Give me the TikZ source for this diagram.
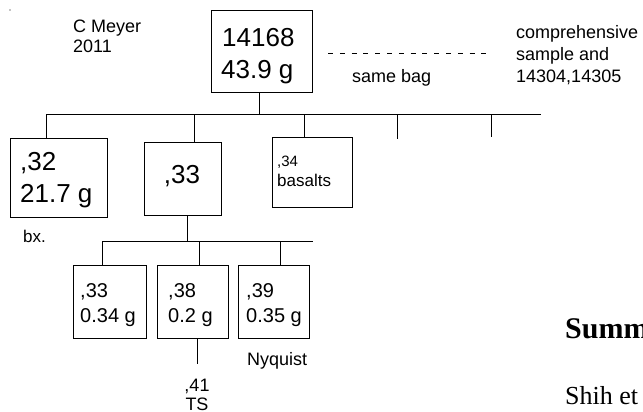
\documentclass[tikz,border=0pt]{standalone}
\usepackage{fontspec}
\setmainfont{Liberation Sans}
\newfontfamily\serifpage{Liberation Serif}
\begin{document}
\begin{tikzpicture}[x=1pt,y=-1pt,
  box/.style={draw,line width=0.9pt,inner sep=0pt,rectangle},
  ln/.style={line width=0.9pt},
  lbl/.style={anchor=base west,inner sep=0pt},
  lblc/.style={anchor=base,inner sep=0pt}]
\useasboundingbox (0,0) rectangle (643,412);
\clip (0,0) rectangle (643,412);
% stray dot
\fill (10,10) circle (0.6);
% boxes
\node[box,minimum width=101pt,minimum height=82pt] (main) at (261.5,51) {};
\node[box,minimum width=97pt,minimum height=79pt] (b32) at (58.5,177.5) {};
\node[box,minimum width=77pt,minimum height=73pt] (b33) at (182.5,178.5) {};
\node[box,minimum width=80pt,minimum height=70pt] (b34) at (312,172) {};
\node[box,minimum width=73pt,minimum height=73pt] (s33) at (109.5,301.5) {};
\node[box,minimum width=71pt,minimum height=73pt] (s38) at (192.5,301.5) {};
\node[box,minimum width=71pt,minimum height=73pt] (s39) at (273.5,301.5) {};
% texts
\node[lbl,font=\fontsize{18}{20}\selectfont] (cm1) at (73,33) {C Meyer};
\node[lbl,font=\fontsize{18}{20}\selectfont] (cm2) at (73,53) {2011};
\node[lbl,font=\fontsize{26}{30}\selectfont] (t1) at (222,47) {14168};
\node[lbl,font=\fontsize{26}{30}\selectfont] (t2) at (221,78) {43.9 g};
\node[lbl,font=\fontsize{18}{20}\selectfont] (sb) at (352,82) {same bag};
\node[lbl,font=\fontsize{18}{20}\selectfont] (c1) at (516,39) {comprehensive};
\node[lbl,font=\fontsize{18}{20}\selectfont] (c2) at (516,61) {sample and};
\node[lbl,font=\fontsize{18}{20}\selectfont] (c3) at (516,83) {14304,14305};
\node[lbl,font=\fontsize{26}{30}\selectfont] (u1) at (20,170) {,32};
\node[lbl,font=\fontsize{26}{30}\selectfont] (u2) at (20,202) {21.7 g};
\node[lblc,font=\fontsize{26}{30}\selectfont] (u3) at (182,183) {,33};
\node[lbl,font=\fontsize{15}{18}\selectfont] (u4) at (277,166) {,34};
\node[lbl,font=\fontsize{17}{20}\selectfont] (u5) at (277,186) {basalts};
\node[lbl,font=\fontsize{17}{20}\selectfont] (bx) at (23,242) {bx.};
\node[lbl,font=\fontsize{20}{24}\selectfont] (v1) at (80,297) {,33};
\node[lbl,font=\fontsize{20}{24}\selectfont] (v2) at (80,322) {0.34 g};
\node[lbl,font=\fontsize{20}{24}\selectfont] (v3) at (168,297) {,38};
\node[lbl,font=\fontsize{20}{24}\selectfont] (v4) at (168,322) {0.2 g};
\node[lbl,font=\fontsize{20}{24}\selectfont] (v5) at (246,297) {,39};
\node[lbl,font=\fontsize{20}{24}\selectfont] (v6) at (246,322) {0.35 g};
\node[lbl,font=\fontsize{18}{20}\selectfont] (ny) at (247,365) {Nyquist};
\node[lblc,font=\fontsize{18}{20}\selectfont] (w1) at (197,391) {,41};
\node[lblc,font=\fontsize{18}{20}\selectfont] (w2) at (197,410) {TS};
\node[lbl,font=\serifpage\bfseries\fontsize{30}{34}\selectfont] (sum) at (565,338) {Summ};
\node[lbl,font=\serifpage\fontsize{26}{30}\selectfont] (shih) at (565,404) {Shih et};
% bus 1
\coordinate (bus1L) at (46,114);
\coordinate (bus1R) at (541,114);
\coordinate (k32) at (46,114);
\coordinate (k33) at (194,114);
\coordinate (k34) at (304,114);
\coordinate (k35) at (397,114);
\coordinate (k36) at (491,114);
\coordinate (k35e) at (397,139);
\coordinate (k36e) at (491,137);
\draw[ln] ([xshift=-2.5pt]main.south) -- ([xshift=-2.5pt]main.south |- bus1L);
\draw[ln] (bus1L) -- (bus1R);
\draw[ln] (k32) -- (k32 |- b32.north);
\draw[ln] (k33) -- (k33 |- b33.north);
\draw[ln] (k34) -- (k34 |- b34.north);
\draw[ln] (k35) -- (k35e);
\draw[ln] (k36) -- (k36e);
% bus 2
\coordinate (bus2L) at (102,241);
\coordinate (bus2R) at (313,241);
\coordinate (m33) at (102,241);
\coordinate (m38) at (199,241);
\coordinate (m39) at (280,241);
\draw[ln] ([xshift=4.5pt]b33.south) -- ([xshift=4.5pt]b33.south |- bus2L);
\draw[ln] (bus2L) -- (bus2R);
\draw[ln] (m33) -- (m33 |- s33.north);
\draw[ln] (m38) -- (m38 |- s38.north);
\draw[ln] (m39) -- (m39 |- s39.north);
% ,38 -> ,41
\draw[ln] ([xshift=4.5pt]s38.south) -- ([xshift=4.5pt]s38.south |- 0,364);
% dashed
\coordinate (d1) at (328,53);
\coordinate (d2) at (490,53);
\draw[ln,dash pattern=on 5pt off 6.8pt] (d1) -- (d2);
\end{tikzpicture}
\end{document}
